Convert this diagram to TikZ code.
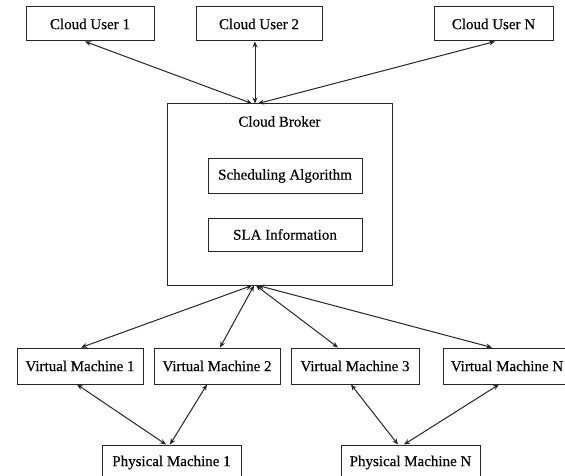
\documentclass[tikz,border=0pt]{standalone}
\usepackage{fontspec}
\setmainfont{Liberation Serif}
\usetikzlibrary{arrows.meta,calc}
\begin{document}
\begin{tikzpicture}[x=1pt,y=-1pt,
  txt/.style={font=\fontsize{15}{18}\selectfont\addfontfeatures{FakeBold=0.3}},
  box/.style={txt,draw=black!85,line width=1pt,fill=white,inner sep=0pt},
  link/.style={draw=black!85,line width=1pt,{Stealth[length=6pt,width=5pt]}-{Stealth[length=6pt,width=5pt]}}]
\useasboundingbox (0,0) rectangle (565,476);
\clip (0,0) rectangle (565,476);
% top row
\node[box,minimum width=128pt,minimum height=34pt] (cu1) at (90,24) {Cloud User 1};
\node[box,minimum width=126pt,minimum height=34pt] (cu2) at (259,24) {Cloud User 2};
\node[box,minimum width=119pt,minimum height=34pt] (cuN) at (493.5,24) {Cloud User N};
% broker
\node[box,minimum width=225pt,minimum height=181pt] (broker) at (279.5,194.5) {};
\node[txt,inner sep=0pt] (brokerlabel) at ([yshift=-18pt]broker.north) {Cloud Broker};
\node[box,minimum width=154pt,minimum height=34pt] (sched) at (285,176) {Scheduling Algorithm};
\node[box,minimum width=154pt,minimum height=33pt] (sla) at (285,234.5) {SLA Information};
% virtual machines
\node[box,minimum width=126pt,minimum height=36pt] (vm1) at (80,366) {Virtual Machine 1};
\node[box,minimum width=126pt,minimum height=36pt] (vm2) at (217,366) {Virtual Machine 2};
\node[box,minimum width=128pt,minimum height=36pt] (vm3) at (355,366) {Virtual Machine 3};
\node[box,minimum width=128pt,minimum height=36pt] (vmN) at (507,366) {Virtual Machine N};
% physical machines
\node[box,minimum width=139pt,minimum height=35pt] (pm1) at (171.5,462.5) {Physical Machine 1};
\node[box,minimum width=139pt,minimum height=35pt] (pmN) at (410.5,462.5) {Physical Machine N};
% connectors: users - broker
\draw[link] ([xshift=-5pt]cu1.south) -- ([xshift=-27.5pt]broker.north);
\draw[link] ([xshift=-4pt]cu2.south) -- ([xshift=-24.5pt]broker.north);
\draw[link] ([xshift=1.5pt]cuN.south) -- ([xshift=-21.5pt]broker.north);
% broker - virtual machines
\draw[link] ([xshift=-27.5pt]broker.south) -- ([xshift=1pt]vm1.north);
\draw[link] ([xshift=-25.5pt]broker.south) -- ([xshift=3pt]vm2.north);
\draw[link] ([xshift=-23.5pt]broker.south) -- ([xshift=-17pt]vm3.north);
\draw[link] ([xshift=-21.5pt]broker.south) -- ([xshift=-15pt]vmN.north);
% virtual - physical machines
\draw[link] ([xshift=-3pt]vm1.south) -- ([xshift=-5.5pt]pm1.north);
\draw[link] ([xshift=-10pt]vm2.south) -- ([xshift=-1.5pt]pm1.north);
\draw[link] ([xshift=-4pt]vm3.south) -- ([xshift=-12.5pt]pmN.north);
\draw[link] ([xshift=-8pt]vmN.south) -- ([xshift=-6.5pt]pmN.north);
\end{tikzpicture}
\end{document}
